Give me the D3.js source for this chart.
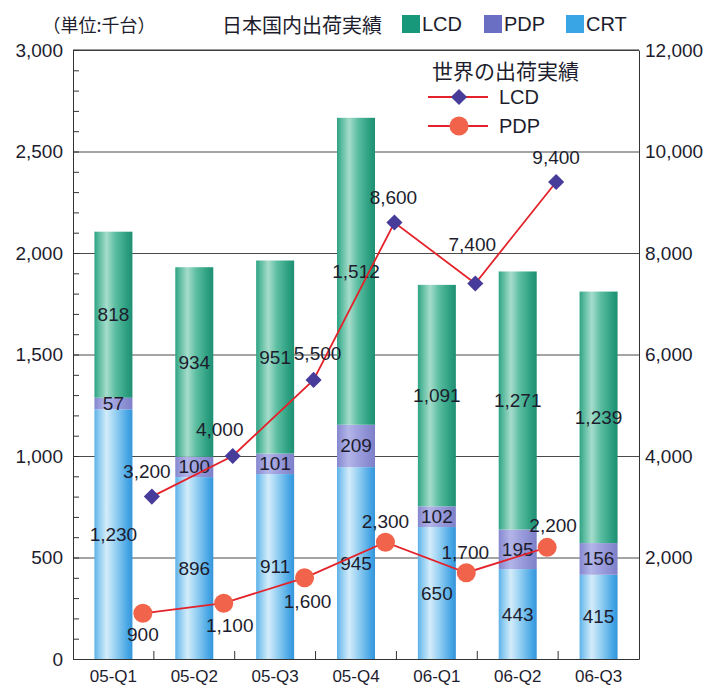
<!DOCTYPE html>
<html>
<head>
<meta charset="utf-8">
<script src="https://cdn.jsdelivr.net/npm/d3@7"></script>
<style>
  html, body { margin: 0; padding: 0; background: #fff; }
  svg { display: block; }
  text { font-family: "Liberation Sans", Arial, sans-serif; fill: #1d1d2e; }
  .jp { font-family: "Noto Sans CJK JP", "Noto Sans", sans-serif; }
</style>
</head>
<body>
<svg id="chart" width="710" height="691"></svg>
<script>
// ---- data ----
const categories = ["05-Q1", "05-Q2", "05-Q3", "05-Q4", "06-Q1", "06-Q2", "06-Q3"];
const crtValues = [1230, 896, 911, 945, 650, 443, 415];
const pdpValues = [57, 100, 101, 209, 102, 195, 156];
const lcdValues = [818, 934, 951, 1512, 1091, 1271, 1239];
const seriesNames = ["CRT", "PDP", "LCD"];

const worldCategories = ["05-Q1", "05-Q2", "05-Q3", "05-Q4", "06-Q1", "06-Q2"];
const worldLcd = [3200, 4000, 5500, 8600, 7400, 9400];
const worldPdp = [900, 1100, 1600, 2300, 1700, 2200];

const leftTicks = [0, 500, 1000, 1500, 2000, 2500, 3000];
const rightTicks = [2000, 4000, 6000, 8000, 10000, 12000];

// label offsets (presentation only)
const lcdLabelOffsets = [[-5, -25], [-13, -27], [4, -26], [-1, -25], [-3, -39], [0, -24]];
const pdpLabelOffsets = [[0, 21], [6, 22], [3, 24], [0, -21], [-1, -20], [6, -22]];

// ---- layout ----
const svg = d3.select("#chart");
const X0 = 73, X1 = 639, Y0 = 659, Y1 = 50;

const x = d3.scaleBand().domain(categories).range([X0, X1]).paddingInner(0.53).paddingOuter(0.265);
const y = d3.scaleLinear().domain([0, 3000]).range([Y0, Y1]);
const yR = d3.scaleLinear().domain([0, 12000]).range([Y0, Y1]);
const step = x.step();
const boundary = c => x(c) + x.bandwidth() + (step - x.bandwidth()) / 2;

// gradients
const defs = svg.append("defs");
function grad(id, stops) {
  const g = defs.append("linearGradient").attr("id", id).attr("x1", "0").attr("x2", "1").attr("y1", "0").attr("y2", "0");
  stops.forEach(s => g.append("stop").attr("offset", s[0]).attr("stop-color", s[1]));
}
grad("gLCD", [["0%", "#2ea283"], ["12%", "#5cbca0"], ["32%", "#a6dccb"], ["55%", "#5cbea1"], ["85%", "#2c9f80"], ["100%", "#1f8f73"]]);
grad("gPDP", [["0%", "#8487cf"], ["30%", "#b3b5e8"], ["60%", "#9a9cdc"], ["100%", "#7d80c8"]]);
grad("gCRT", [["0%", "#5cb1e8"], ["12%", "#8ccbf1"], ["32%", "#d3ecfa"], ["58%", "#90cdf1"], ["88%", "#45a5e5"], ["100%", "#3595d9"]]);
const fills = { CRT: "url(#gCRT)", PDP: "url(#gPDP)", LCD: "url(#gLCD)" };

// gridlines
svg.append("g")
  .attr("transform", `translate(${X0},0)`)
  .call(d3.axisLeft(y).tickValues(leftTicks.slice(1)).tickSize(-(X1 - X0)).tickFormat(""))
  .call(g => g.select(".domain").remove())
  .call(g => g.selectAll("line").attr("stroke", "#4a4a4a").attr("stroke-width", 1));

// minor ticks on the left axis (inside)
svg.append("g")
  .attr("transform", `translate(${X0},0)`)
  .call(d3.axisRight(y).tickValues(d3.range(0, 3001, 100)).tickSize(6).tickFormat(""))
  .call(g => g.select(".domain").remove())
  .call(g => g.selectAll("line").attr("stroke", "#333"));

// stacked bars
const table = categories.map((c, i) => ({ cat: c, CRT: crtValues[i], PDP: pdpValues[i], LCD: lcdValues[i] }));
const stacked = d3.stack().keys(seriesNames)(table);

const barG = svg.append("g");
stacked.forEach(layer => {
  barG.selectAll(null).data(layer).join("rect")
    .attr("x", d => x(d.data.cat))
    .attr("width", x.bandwidth())
    .attr("y", d => y(d[1]))
    .attr("height", d => y(d[0]) - y(d[1]))
    .attr("fill", fills[layer.key]);
});

// axes
svg.append("g")
  .attr("transform", `translate(${X0},0)`)
  .call(d3.axisLeft(y).tickValues(leftTicks).tickSize(0).tickPadding(10).tickFormat(d3.format(",")))
  .call(g => g.select(".domain").attr("stroke", "#333"))
  .call(g => g.selectAll("text").attr("font-size", 19).style("font-family", "Liberation Sans, Arial, sans-serif").attr("fill", "#1d1d2e"));

svg.append("g")
  .attr("transform", `translate(${X1},0)`)
  .call(d3.axisRight(yR).tickValues(rightTicks).tickSize(0).tickPadding(6).tickFormat(d3.format(",")))
  .call(g => g.select(".domain").attr("stroke", "#333"))
  .call(g => g.selectAll("text").attr("font-size", 19).style("font-family", "Liberation Sans, Arial, sans-serif").attr("fill", "#1d1d2e"));

// top border
svg.append("line").attr("x1", X0).attr("x2", X1).attr("y1", Y1).attr("y2", Y1).attr("stroke", "#333");

svg.append("g")
  .attr("transform", `translate(0,${Y0})`)
  .call(d3.axisBottom(x).tickSize(0).tickPadding(11))
  .call(g => g.select(".domain").attr("stroke", "#333"))
  .call(g => g.selectAll("text").attr("font-size", 17).style("font-family", "Liberation Sans, Arial, sans-serif").attr("fill", "#1d1d2e"));

// category boundary ticks (inside, pointing up)
svg.append("g").selectAll("line").data(categories.slice(0, -1)).join("line")
  .attr("x1", d => boundary(d)).attr("x2", d => boundary(d))
  .attr("y1", Y0).attr("y2", Y0 - 8)
  .attr("stroke", "#333");

// bar value labels
const fmt = d3.format(",");
const labG = svg.append("g");
stacked.forEach(layer => {
  labG.selectAll(null).data(layer).join("text")
    .attr("x", d => x(d.data.cat) + x.bandwidth() / 2)
    .attr("y", d => (y(d[0]) + y(d[1])) / 2)
    .attr("text-anchor", "middle")
    .attr("dominant-baseline", "central")
    .attr("font-size", 19)
    .text(d => fmt(d.data[layer.key]));
});

// world lines
const lineColor = "#e3222a";
const lcdX = c => boundary(c) - 2;
const pdpX = c => boundary(c) - 11;
const lcdPts = worldCategories.map((c, i) => [lcdX(c), yR(worldLcd[i])]);
const pdpPts = worldCategories.map((c, i) => [pdpX(c), yR(worldPdp[i])]);
const lineGen = d3.line();

svg.append("path").attr("d", lineGen(lcdPts)).attr("fill", "none").attr("stroke", lineColor).attr("stroke-width", 1.8);
svg.append("path").attr("d", lineGen(pdpPts)).attr("fill", "none").attr("stroke", lineColor).attr("stroke-width", 1.8);

const diamond = d3.symbol().type(d3.symbolSquare).size(130);
svg.append("g").selectAll("path").data(lcdPts).join("path")
  .attr("d", diamond)
  .attr("transform", d => `translate(${d[0]},${d[1]}) rotate(45)`)
  .attr("fill", "#483c9a");

svg.append("g").selectAll("circle").data(pdpPts).join("circle")
  .attr("cx", d => d[0]).attr("cy", d => d[1]).attr("r", 9.5)
  .attr("fill", "#f1634b");

svg.append("g").selectAll("text").data(worldLcd).join("text")
  .attr("x", (d, i) => lcdPts[i][0] + lcdLabelOffsets[i][0])
  .attr("y", (d, i) => lcdPts[i][1] + lcdLabelOffsets[i][1])
  .attr("text-anchor", "middle").attr("dominant-baseline", "central")
  .attr("font-size", 19)
  .text(d => fmt(d));

svg.append("g").selectAll("text").data(worldPdp).join("text")
  .attr("x", (d, i) => pdpPts[i][0] + pdpLabelOffsets[i][0])
  .attr("y", (d, i) => pdpPts[i][1] + pdpLabelOffsets[i][1])
  .attr("text-anchor", "middle").attr("dominant-baseline", "central")
  .attr("font-size", 19)
  .text(d => fmt(d));

// top legend
svg.append("text").attr("class", "jp").attr("x", 99).attr("y", 24)
  .attr("text-anchor", "middle").attr("dominant-baseline", "central").attr("font-size", 18)
  .text("（単位:千台）");
svg.append("text").attr("class", "jp").attr("x", 222).attr("y", 24)
  .attr("dominant-baseline", "central").attr("font-size", 20)
  .text("日本国内出荷実績");
const swatchColors = { LCD: "#17987a", PDP: "#6b6fc4", CRT: "#3aa5e5" };
const legendItems = ["LCD", "PDP", "CRT"];
const legendX = [402, 484, 566];
legendItems.forEach((k, i) => {
  svg.append("rect").attr("x", legendX[i]).attr("y", 15).attr("width", 18).attr("height", 18).attr("fill", swatchColors[k]);
  svg.append("text").attr("x", legendX[i] + 20).attr("y", 24).attr("dominant-baseline", "central")
    .attr("font-size", 20).text(k);
});

// world legend
svg.append("text").attr("class", "jp").attr("x", 432).attr("y", 70)
  .attr("dominant-baseline", "central").attr("font-size", 21).text("世界の出荷実績");
svg.append("line").attr("x1", 428).attr("x2", 488).attr("y1", 97).attr("y2", 97).attr("stroke", lineColor).attr("stroke-width", 1.8);
svg.append("path").attr("d", diamond).attr("transform", "translate(459,97) rotate(45)").attr("fill", "#483c9a");
svg.append("text").attr("x", 499).attr("y", 97).attr("dominant-baseline", "central").attr("font-size", 20).text("LCD");
svg.append("line").attr("x1", 428).attr("x2", 488).attr("y1", 126).attr("y2", 126).attr("stroke", lineColor).attr("stroke-width", 1.8);
svg.append("circle").attr("cx", 459).attr("cy", 126).attr("r", 9.5).attr("fill", "#f1634b");
svg.append("text").attr("x", 499).attr("y", 126).attr("dominant-baseline", "central").attr("font-size", 20).text("PDP");
</script>
</body>
</html>
